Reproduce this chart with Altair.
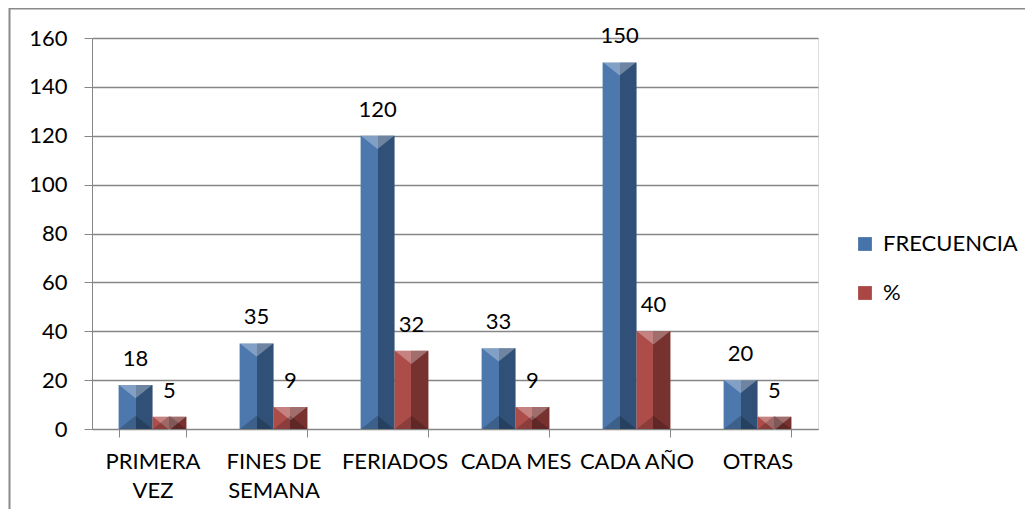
import altair as alt
import pandas as pd

categorias = ["PRIMERA VEZ", "FINES DE SEMANA", "FERIADOS", "CADA MES", "CADA AÑO", "OTRAS"]
frecuencia = [18, 35, 120, 33, 150, 20]
porcentaje = [5, 9, 32, 9, 40, 5]
series = ["FRECUENCIA", "%"]
colores = ["#4573AA", "#AA4643"]
y_ticks = [0, 20, 40, 60, 80, 100, 120, 140, 160]

rows = []
for c, f, p in zip(categorias, frecuencia, porcentaje):
    rows.append({"categoria": c, "serie": series[0], "valor": f})
    rows.append({"categoria": c, "serie": series[1], "valor": p})
df = pd.DataFrame(rows)

FONT = "Lato"
FS = 22
GRID = "#868686"

label_expr = ("datum.label == 'PRIMERA VEZ' ? ['PRIMERA', 'VEZ'] : "
              "datum.label == 'FINES DE SEMANA' ? ['FINES DE', 'SEMANA'] : datum.label")

x_enc = alt.X("categoria:N", sort=categorias,
              scale=alt.Scale(paddingInner=0.44, paddingOuter=0.22),
              axis=alt.Axis(title=None, labelAngle=0, labelExpr=label_expr, tickBand="extent",
                            tickSize=8, labelPadding=14, labelLineHeight=29,
                            labelFontSize=FS, labelFont=FONT, labelColor="black",
                            domainColor=GRID, tickColor=GRID, grid=False))
xo_enc = alt.XOffset("serie:N", sort=series, scale=alt.Scale(domain=series))
y_enc = alt.Y("valor:Q", scale=alt.Scale(domain=[0, 160]),
              axis=alt.Axis(title=None, values=y_ticks, grid=True, gridColor=GRID,
                            gridWidth=1.3, tickSize=8, tickColor=GRID, domainColor=GRID,
                            labelPadding=17, labelFontSize=FS, labelFont=FONT,
                            labelColor="black"))

base = alt.Chart(df).encode(x=x_enc, xOffset=xo_enc, y=y_enc)

bars = base.mark_bar().encode(
    color=alt.Color("serie:N", sort=series,
                    scale=alt.Scale(domain=series, range=colores),
                    legend=alt.Legend(title=None, orient="none", legendX=762, legendY=195,
                                      symbolType="square", symbolSize=190,
                                      symbolStrokeWidth=0, labelFontSize=FS,
                                      labelFont=FONT, labelColor="black",
                                      rowPadding=27, labelOffset=7))
)

shade = base.mark_bar(
    fill=alt.Gradient(
        gradient="linear", x1=0, x2=1, y1=0, y2=0,
        stops=[alt.GradientStop(offset=0, color="rgba(255,255,255,0.04)"),
               alt.GradientStop(offset=0.5, color="rgba(255,255,255,0.04)"),
               alt.GradientStop(offset=0.5, color="rgba(0,0,0,0.30)"),
               alt.GradientStop(offset=1, color="rgba(0,0,0,0.30)")])
)

top_bevel = base.mark_point(
    shape="M-1,-1L1,-1L0,-0.2Z", size=1100, filled=True, opacity=1,
    fill="rgba(255,255,255,0.3)", strokeWidth=0, yOffset=16.5
)

bottom_bevel = base.mark_point(
    shape="M-1,1L1,1L0,0.2Z", size=1100, filled=True, opacity=1,
    fill="rgba(0,0,0,0.20)", strokeWidth=0, yOffset=-16.5
).encode(y=alt.datum(0))

labels = base.mark_text(baseline="middle", dy=-26, fontSize=FS, font=FONT,
                        color="black").encode(text=alt.Text("valor:Q"))

one = pd.DataFrame({"a": [0]})
frame_top = alt.Chart(one).mark_rule(color="#8a8a8a", strokeWidth=2).encode(
    x=alt.value(-83), x2=alt.value(941), y=alt.value(-29.5))
frame_left = alt.Chart(one).mark_rule(color="#8a8a8a", strokeWidth=2).encode(
    x=alt.value(-82.5), y=alt.value(-30), y2=alt.value(483))

chart = alt.layer(bars, shade, top_bevel, bottom_bevel, labels, frame_top, frame_left).properties(
    width=726, height=391,
    autosize=alt.AutoSizeParams(type="none"),
    padding={"left": 84, "top": 30, "right": 207, "bottom": 80},
).configure_view(stroke=None).configure(background="white")

chart.save("out.html", embed_options={"renderer": "svg", "actions": False})
